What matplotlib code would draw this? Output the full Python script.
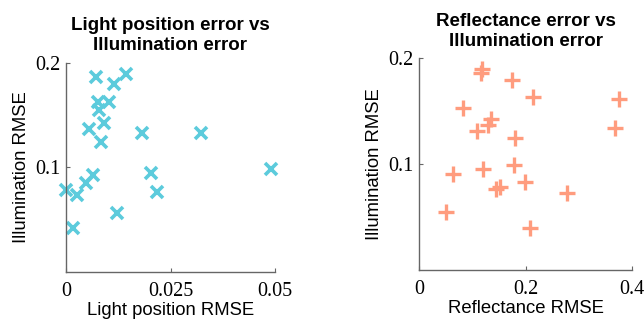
import matplotlib
matplotlib.use("Agg")
import matplotlib.pyplot as plt

# Light position error vs illumination error
light_rmse = [0.00718, 0.01156, 0.01428, 0.00758, 0.01036, 0.00797, 0.00557,
              0.00916, 0.0083, 0.0181, 0.0323, 0.049, 0.0203, 0.0217,
              0.00653, 0.00478, 0.0027, 0.0, 0.00175, 0.01227]
light_illum = [0.1861, 0.1797, 0.1892, 0.1629, 0.1629, 0.155, 0.1369,
               0.1423, 0.1238, 0.1324, 0.1333, 0.0989, 0.095, 0.0766,
               0.0924, 0.0851, 0.074, 0.0788, 0.0416, 0.0566]

# Reflectance error vs illumination error
refl_rmse = [0.1185, 0.1155, 0.1738, 0.2144, 0.3761, 0.0816, 0.1343, 0.1298,
             0.1079, 0.3686, 0.18, 0.1781, 0.1204, 0.0628, 0.1988, 0.1518,
             0.1443, 0.2777, 0.0502, 0.2082]
refl_illum = [0.1899, 0.1858, 0.1795, 0.1637, 0.1612, 0.1527, 0.1426, 0.1369,
              0.1312, 0.1338, 0.1243, 0.099, 0.095, 0.0905, 0.0833, 0.0785,
              0.0761, 0.0723, 0.0549, 0.0401]

cyan = '#5ccbdc'
salmon = '#ff9c7e'

fig = plt.figure(figsize=(6.44, 3.22), dpi=100)
ax1 = fig.add_axes([66/644, 1-272/322, 209/644, 209.3/322])
ax2 = fig.add_axes([419.3/644, 1-270/322, 212.7/644, 211.7/322])

ax1.plot(light_rmse, light_illum, 'x', color=cyan, ms=8, mew=2.6, clip_on=False)
ax2.plot(refl_rmse, refl_illum, '+', color=salmon, ms=11.5, mew=2.4, clip_on=False)


def style(ax, xlim, xticks, xticklabels, title, xlabel):
    ax.set_xlim(*xlim)
    ax.set_ylim(0, 0.2)
    ax.set_xticks(xticks)
    ax.set_xticklabels(xticklabels)
    ax.set_yticks([0.1, 0.2])
    ax.set_yticklabels(['0.1', '0.2'])
    for s in ['top', 'right']:
        ax.spines[s].set_visible(False)
    for s in ['left', 'bottom']:
        ax.spines[s].set_color('#666666')
        ax.spines[s].set_linewidth(1.0)
    ax.tick_params(direction='in', length=3, width=0.8, color='#666666')
    ax.tick_params(axis='x', pad=7)
    ax.tick_params(axis='y', pad=4)
    for lab in ax.get_xticklabels() + ax.get_yticklabels():
        lab.set_fontfamily('Liberation Serif')
        lab.set_fontsize(14.5)
    ax.set_title(title, fontfamily='Liberation Sans', fontweight='bold',
                 fontsize=13.5, pad=9, linespacing=1.25)
    ax.set_xlabel(xlabel, fontfamily='Liberation Sans', fontsize=13.3, labelpad=1)
    ax.set_ylabel('Illumination RMSE', fontfamily='Liberation Sans',
                  fontsize=13.3, labelpad=4)


style(ax1, (0, 0.05), [0, 0.025, 0.05], ['0', '0.025', '0.05'],
      'Light position error vs\nIllumination error', 'Light position RMSE')
style(ax2, (0, 0.4), [0, 0.2, 0.4], ['0', '0.2', '0.4'],
      'Reflectance error vs\nIllumination error', 'Reflectance RMSE')

fig.savefig('out.png', dpi=100)
